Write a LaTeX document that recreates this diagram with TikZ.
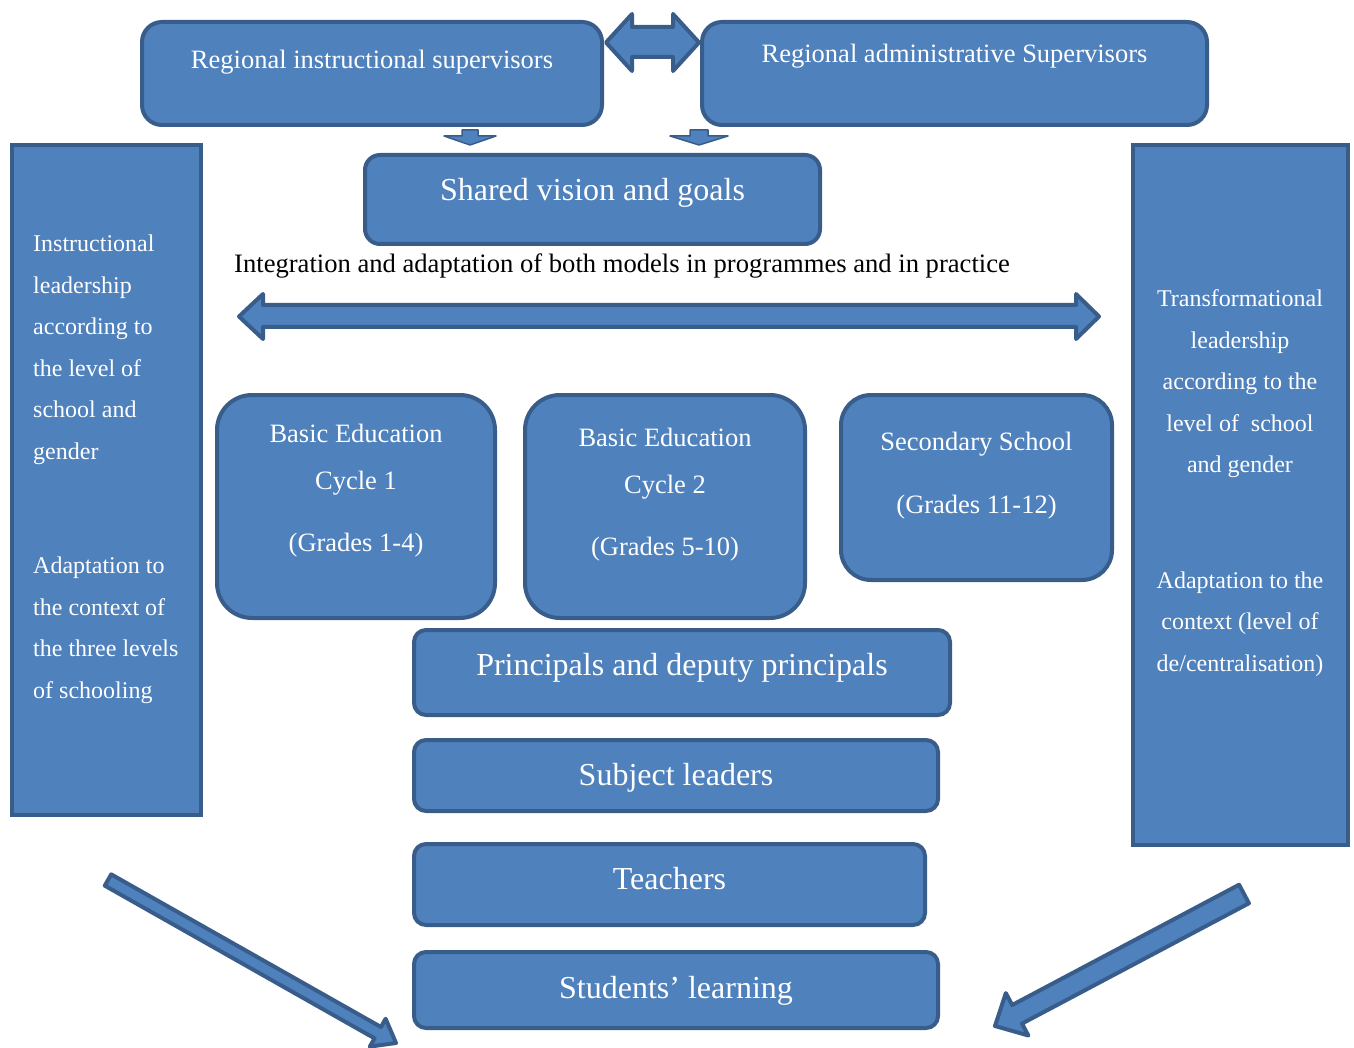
\documentclass[tikz,border=0pt]{standalone}
\usepackage{fontspec}
\setmainfont{Liberation Serif}
\usetikzlibrary{calc}
\definecolor{bfill}{HTML}{4F81BD}
\definecolor{bline}{HTML}{385D8A}
\begin{document}
\begin{tikzpicture}[x=1pt,y=-1pt,
  box/.style={draw=bline, fill=bfill, line width=4pt, inner sep=0pt},
  blk/.style={draw=bline, fill=bfill, line width=4pt, line join=round},
  tiny/.style={draw=bline, fill=bfill, line width=1.5pt, line join=round},
  wt/.style={text=white, inner sep=0pt, anchor=base},
  fA/.style={font=\fontsize{26.5}{32}\selectfont},
  fB/.style={font=\fontsize{32}{38}\selectfont},
  fC/.style={font=\fontsize{24}{41.6}\selectfont},
  fD/.style={font=\fontsize{26.5}{47}\selectfont}]
\useasboundingbox (0,0) rectangle (1354,1048);

% side panels
\node[box, minimum width=189pt, minimum height=670pt] (lp) at (106.5,480) {};
\node[box, minimum width=215pt, minimum height=700pt] (rp) at (1240.5,495) {};

% top boxes
\node[box, rounded corners=20pt, minimum width=460pt, minimum height=103pt] (ris) at (372,73.5) {};
\node[box, rounded corners=20pt, minimum width=505pt, minimum height=103pt] (ras) at (954.5,73.5) {};
\node[box, rounded corners=15pt, minimum width=455pt, minimum height=89pt] (sv) at (592.5,199.5) {};

% school level boxes
\node[box, rounded corners=35pt, minimum width=278pt, minimum height=223pt] (c1) at (356,506.5) {};
\node[box, rounded corners=35pt, minimum width=280pt, minimum height=223pt] (c2) at (665,506.5) {};
\node[box, rounded corners=30pt, minimum width=271pt, minimum height=185pt] (ss) at (976.5,487.5) {};

% stacked boxes
\node[box, rounded corners=12pt, minimum width=536pt, minimum height=85pt] (pr) at (682,672.5) {};
\node[box, rounded corners=12pt, minimum width=524pt, minimum height=71pt] (sl) at (676,775.5) {};
\node[box, rounded corners=12pt, minimum width=511pt, minimum height=81pt] (te) at (669.5,884.5) {};
\node[box, rounded corners=12pt, minimum width=524pt, minimum height=76pt] (st) at (676,990) {};

% texts
\node[wt, fA] (tris) at (372,69) {Regional instructional supervisors};
\node[wt, fA] (tras) at (954.5,63) {Regional administrative Supervisors};
\node[wt, fB] (tsv) at (592.5,201) {Shared vision and goals};
\node[inner sep=0pt, anchor=base west, font=\fontsize{26.6}{30}\selectfont] (tint) at (234,273)
  {Integration and adaptation of both models in programmes and in practice};

\node[wt, fC, anchor=base west] (tlp1) at (33,251.5)
  {\begin{tabular}[t]{@{}l@{}}Instructional\\leadership\\according to\\the level of\\school and\\gender\end{tabular}};
\node[wt, fC, anchor=base west] (tlp2) at (33,573.5)
  {\begin{tabular}[t]{@{}l@{}}Adaptation to\\the context of\\the three levels\\of schooling\end{tabular}};
\node[wt, fC] (trp1) at (1240,306.5)
  {\begin{tabular}[t]{@{}c@{}}Transformational\\leadership\\according to the\\level of~~school\\and gender\end{tabular}};
\node[wt, fC] (trp2) at (1240,588)
  {\begin{tabular}[t]{@{}c@{}}Adaptation to the\\context (level of\\de/centralisation)\end{tabular}};

\node[wt, fD] (tc1) at (356,442)
  {\begin{tabular}[t]{@{}c@{}}Basic Education\\Cycle 1\\[15pt](Grades 1-4)\end{tabular}};
\node[wt, fD] (tc2) at (665,446)
  {\begin{tabular}[t]{@{}c@{}}Basic Education\\Cycle 2\\[15pt](Grades 5-10)\end{tabular}};
\node[wt, fD] (tss) at (976.5,450)
  {\begin{tabular}[t]{@{}c@{}}Secondary School\\[16pt](Grades 11-12)\end{tabular}};

\node[wt, fB] (tpr) at (682,675) {Principals and deputy principals};
\node[wt, fB] (tsl) at (676,785) {Subject leaders};
\node[wt, fB] (tte) at (669.5,889) {Teachers};
\node[wt, fB] (tst) at (676,998) {Students’ learning};

% top double arrow
\draw[blk] (606,42.5) -- (632,14) -- (632,27) -- (673,27) -- (673,14) -- (699,42.5)
  -- (673,71) -- (673,57) -- (632,57) -- (632,71) -- cycle;

% small down arrows
\draw[tiny] (462,130) -- (478,130) -- (478,136) -- (496,136) -- (470,145) -- (444,136) -- (462,136) -- cycle;
\draw[tiny] (690,130) -- (708,130) -- (708,136) -- (728,136) -- (699,145) -- (670,136) -- (690,136) -- cycle;

% horizontal double arrow
\draw[blk] (239,316.5) -- (263,294) -- (263,305) -- (1076,305) -- (1076,294) -- (1099,316.5)
  -- (1076,339) -- (1076,327) -- (263,327) -- (263,339) -- cycle;

% diagonal arrows
\coordinate (la1) at (108,880);
\coordinate (la2) at (396,1043);
\coordinate (lah) at ($(la2)!21pt!(la1)$);
\draw[blk] ($(la1)!6.5pt!90:(la2)$) -- ($(lah)!6.5pt!-90:(la1)$) -- ($(lah)!16pt!-90:(la1)$) -- (la2)
  -- ($(lah)!16pt!90:(la1)$) -- ($(lah)!6.5pt!90:(la1)$) -- ($(la1)!6.5pt!-90:(la2)$) -- cycle;

\coordinate (ra1) at (1244,894);
\coordinate (ra2) at (995,1026);
\coordinate (rah) at ($(ra2)!25pt!(ra1)$);
\draw[blk] ($(ra1)!10.5pt!90:(ra2)$) -- ($(rah)!10.5pt!-90:(ra1)$) -- ($(rah)!24pt!-90:(ra1)$) -- (ra2)
  -- ($(rah)!24pt!90:(ra1)$) -- ($(rah)!10.5pt!90:(ra1)$) -- ($(ra1)!10.5pt!-90:(ra2)$) -- cycle;
\end{tikzpicture}
\end{document}
